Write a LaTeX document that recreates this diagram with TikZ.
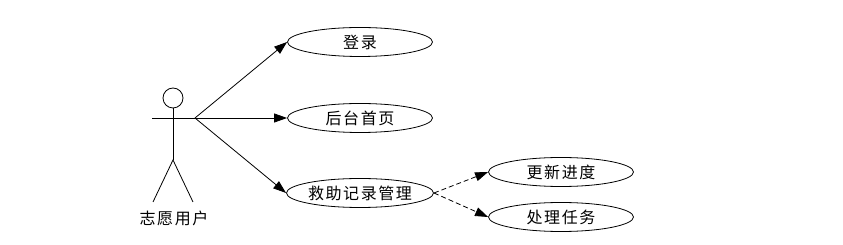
\documentclass[tikz,border=0pt]{standalone}
\usepackage{fontspec}
\newfontfamily\cjk[LetterSpace=10]{Noto Sans CJK SC}
\usetikzlibrary{shapes.geometric,arrows.meta}

\begin{document}
\begin{tikzpicture}[x=1pt,y=-1pt,line width=0.8pt,
    usecase/.style={draw, ellipse, minimum width=145pt, minimum height=29pt,
        inner sep=0pt, font=\cjk\fontsize{16}{16}\selectfont},
    assoc/.style={-{Triangle[length=13pt,width=9pt]}},
    incl/.style={assoc, dash pattern=on 5pt off 3pt}]
    \useasboundingbox (0,0) rectangle (843,245);

    % Actor
    \draw (173,98) circle (10pt);
    \draw (173,108) -- (173,160);
    \draw (152,118) -- (195,118);
    \draw (153,202) -- (173,160) -- (193,202);
    \coordinate (hand) at (195,118);
    \node[font=\cjk\fontsize{16}{16}\selectfont] (actor) at (174,218) {志愿用户};

    % Use cases of the actor
    \foreach \name/\ypos/\text in {login/42/登录, home/118/后台首页, rescue/193/救助记录管理}{
        \node[usecase] (\name) at (360,\ypos) {\text};
        \draw[assoc] (hand) -- (\name.west);
    }

    % Included use cases
    \foreach \name/\ypos/\text in {update/172/更新进度, task/217/处理任务}{
        \node[usecase] (\name) at (561,\ypos) {\text};
        \draw[incl] (rescue.east) -- (\name.west);
    }
\end{tikzpicture}
\end{document}
